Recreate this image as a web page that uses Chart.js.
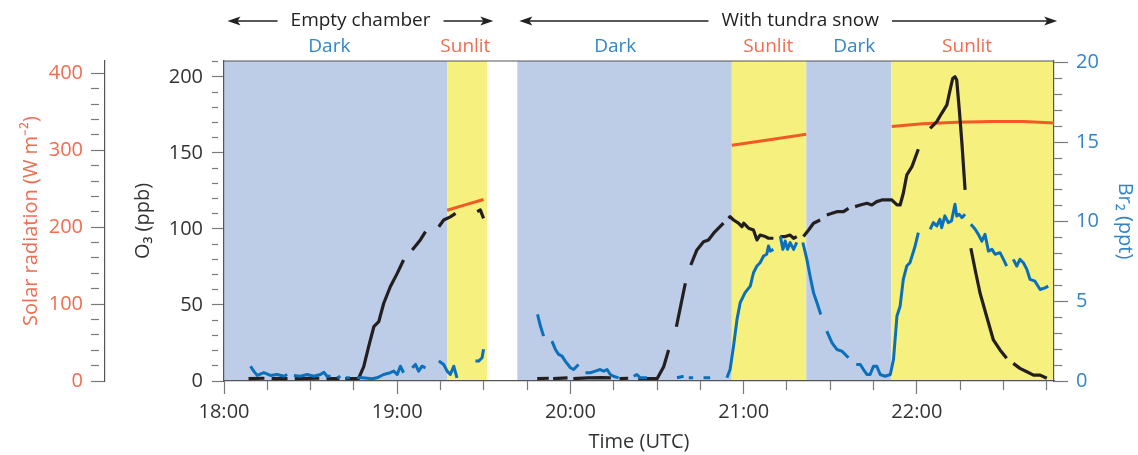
<!DOCTYPE html>
<html>
<head>
<meta charset="utf-8">
<script src="https://cdn.jsdelivr.net/npm/chart.js@4/dist/chart.umd.min.js"></script>
<style>
  html, body { margin: 0; padding: 0; background: #fff; }
</style>
</head>
<body>
<canvas id="myChart" width="1138" height="455"></canvas>
<script>
// time is in minutes after 18:00 UTC, null = gap in the record

// O3 (ppb)
const o3Time = [
  8.5, 14, 15, 16.5, 22, 23, 24.5, 33, 34, 35.5, 40, 41, 42, 46.6,
  48.4, 50.1, 51.9, 53.6, 55.3, 57.6, 60, 62.2, 63.7, 65.2, 68, 69.8, 72, 74.4, 76.1, 78.4, 80.2, 84, 87.7, 88.8, 89.9,
  95,
  108.5, 112.5, 113.2, 114, 119, 120, 121, 126, 131, 134, 135.5, 137, 140, 141.7, 143.5, 150,
  152.3, 154, 155.3, 156.7, 158.6, 159.8, 160.7, 161.7, 163.8, 166.1, 167.8, 169.6, 171.3, 173, 173.9,
  174.8, 175.3, 176.5, 178.2, 179.4, 180, 181.7, 183.4, 184.6, 185.7, 187.5, 188.6, 190.3, 191.5,
  192.7, 194.4, 196.1, 197.3, 198.4, 199.5,
  200.7, 202.5, 204.2, 206.5, 207.6, 208.8, 210.6, 212.3, 214.6, 216.3, 217.4,
  218.6, 220.4, 222.7, 224.4, 226.1, 227.9, 229.6, 231.3, 233.1, 234.2, 235.3, 236.5, 238.3, 240.5, 242.5,
  244.6, 246.9, 248.6, 250.4, 251.5, 252.4, 253.2, 253.8, 254.7, 255.6, 256.7, 257.7,
  258.7, 260.2, 261.9, 264.2, 266.5, 268.8, 271.1, 272.2, 273.4, 275.7, 278.1, 280.4, 282.7, 285
];
const o3Ppb = [
  1.5, 1.8, null, 1.6, 1.5, null, 1.6, 1.8, null, 1.5, 1.6, null, 1.5, 1.5,
  9.4, 22.6, 35.7, 39, 51, 62, 70.8, 79.6, null, 86.2, 92.8, 98.2, null, 101.5, 105.9, 108, 110.3, null, 111.4, 112.5, 107,
  null,
  1.5, 1.8, null, 1.5, 2, null, 1.6, 2, 2.2, 2, null, 1.5, 1.8, null, 1.5, 1.5,
  9.4, 20.4, null, 35.7, 53.3, 64.3, null, 76.3, 86.2, 91.6, 92.8, 97.2, 100.5, 103.8, null,
  107, 108.1, 105.9, 103.8, 101.5, 103.8, 100.5, 99.3, 92.8, 96, 95, 93.9, 93.9, null,
  95, 95, 96, 93.9, 95, null,
  95, 99.3, 103.8, 105.9, null, 109.2, 110.3, 111.4, 111.4, 113.6, null,
  114.7, 115.8, 116.9, 115.8, 118, 119.1, 119.1, 119.1, 115.8, 115.8, 123.5, 135.5, 141, 152.4, null,
  166.2, 170.6, 176.1, 181.6, 191.4, 199, 200.2, 198, 178.3, 156.4, 125.7, null,
  87.3, 73, 57.7, 42.3, 27, 20.4, 14.9, null, 11.6, 8.3, 6.1, 3.9, 3.9, 1.8
];

// Br2 (ppt)
const br2Time = [
  9.2, 10.3, 11.5, 13.8, 16.1, 18.4, 20.7, 21.9, 23, 24.2, 26.5, 28.8, 31.1, 33.4, 34.6, 35.7, 36.9, 38,
  39.2, 40.3, 41.5, 42.3, 43.6, 44.6, 46.1, 48, 51.3, 53, 55.3, 57.6, 58.8, 60, 61.1, 62.2, 63.7,
  65.2, 66.3, 67.4, 68.6, 69.8, 72, 74.4, 76.1, 77.3, 78.4, 79.6, 80.7, 84, 87.1, 88.2, 89.4, 89.9,
  95,
  108.6, 109.6, 110.7, 112.2, 113.6, 114.8, 115.9, 117.1, 118.2, 120, 121.1, 122.8, 124,
  125.2, 126.9, 128.6, 130.3, 131.5, 132.7, 133.8, 134.9, 136.7, 139, 141.9, 143, 144.2, 146.5, 150,
  156.9, 159.2, 160.3, 161, 162.5, 164, 166.1, 168.4, 171,
  174.2, 175.3, 176.5, 177.7, 178.8, 180.5, 182.3, 183.4, 184.6, 185.7, 186.9, 188, 188.6, 189.2, 190.3, 191.5,
  192.7, 193.6, 194.4, 195.2, 196.1, 197.3, 198.4, 199.5,
  200.5, 201.9, 203, 204.2, 205.4, 206.7, 207.8,
  208.8, 210.6, 212.3, 214, 215.2, 216.3, 217.6,
  219, 220.4, 221.5, 222.7, 223.8, 225, 226.1, 227.3, 229, 230.8, 231.9, 233.1, 234.2, 235.3, 236.5, 237.6, 239.4, 240.5, 242.5,
  244.6, 245.7, 246.9, 248, 248.6, 249.7, 250.9, 252, 253.2, 253.8, 254.7, 255.6, 256.7, 257.7,
  258.7, 260.2, 261.3, 262.5, 263.6, 264.8, 266, 267.1, 268.8, 270, 271.1, 272.2,
  273.4, 274.6, 275.7, 276.9, 278.1, 279.2, 280.9, 282.7, 284.4, 285.5
];
const br2Ppt = [
  0.93, 0.62, 0.35, 0.52, 0.35, 0.41, 0.3, 0.41, null, 0.35, 0.3, 0.41, 0.3, 0.41, 0.55, 0.3, 0.3, null,
  0.2, 0.3, null, 0.2, 0.2, null, 0.2, 0.2, 0.14, 0.2, 0.41, 0.52, 0.62, 0.41, 0.93, 0.52, null,
  0.83, 1.04, 0.62, 0.93, 0.83, null, 1.25, 1.04, 0.62, 0.41, 0.93, 0.2, null, 1.25, 1.25, 1.46, 2.0,
  null,
  4.18, 3.45, 2.82, null, 2.5, 1.98, 1.67, 1.56, 1.25, 0.83, 0.72, 1.04, null,
  0.52, 0.52, 0.62, 0.72, 0.62, 0.72, 0.41, 0.3, 0.2, null, 0.3, 0.41, 0.2, 0.2, null,
  0.2, 0.3, null, 0.2, 0.2, null, 0.2, 0.2, null,
  0.2, 0.72, 2.19, 3.87, 4.92, 5.55, 5.96, 6.8, 7.22, 7.43, 7.85, 7.96, 8.48, 8.16, 8.27, null,
  9.1, 8.27, 8.79, 8.27, 8.69, 8.27, 8.7, null,
  8.7, 7.64, 6.6, 5.55, 4.92, 4.18, null,
  3.13, 2.4, 1.98, 1.88, 1.67, 1.46, null,
  1.04, 1.04, 0.72, 0.41, 0.41, 0.93, 0.93, 0.41, 0.3, 0.41, 1.35, 4.08, 4.7, 6.38, 7.22, 7.43, 8.48, 9.32, null,
  9.53, 9.95, 9.74, 10.16, 9.63, 10.37, 9.95, 10.05, 11.1, 10.37, 10.47, 10.26, 10.47, null,
  9.84, 9.53, 9.21, 8.79, 9.21, 8.16, 8.27, 7.96, 8.06, 7.64, 7.22, null,
  7.64, 7.22, 7.64, 7.43, 7.01, 6.38, 6.27, 5.75, 5.85, 5.96
];

// solar radiation (W m-2), only while lamps on
const solarTime = [77.3, 83.5, 89.9, 95, 175.9, 189, 201.7, 215, 231.3, 242, 254, 266, 277, 287.5];
const solarWm2  = [222, 229, 236, null, 306.5, 313.5, 320.8, null, 331, 334.5, 336.5, 337.5, 337.5, 335.5];

// dark / sunlit periods
const bandStart = [0, 77.3, 101.6, 175.9, 201.7, 231.1];
const bandEnd   = [77.3, 91.1, 175.9, 201.7, 231.1, 287.5];
const bandKind  = ['Dark', 'Sunlit', 'Dark', 'Sunlit', 'Dark', 'Sunlit'];
const bandLabelAt = [36.5, 83.6, 135.5, 188.5, 218.3, 257.4];

// experiment phases shown with arrows
const phaseNames  = ['Empty chamber', 'With tundra snow'];
const phaseFrom   = [1.2, 102.3];
const phaseTo     = [93.3, 288.6];
const phaseTextAt = [47.3, 199.6];

const hourLabels = ['18:00', '19:00', '20:00', '21:00', '22:00'];

const FONT = "'Open Sans', sans-serif";
const AXIS = '#555';
const TICK = '#7a7a7a';
const DARK_BG = '#bdcde8';
const SUN_BG = '#f6f07e';
const O3_LINE = '#231f20';
const BR2_LINE = '#0a70bb';
const BR2_TEXT = '#3485c7';
const SOLAR_LINE = '#f15a24';
const SOLAR_TEXT = '#f26c4f';

Chart.defaults.font.family = FONT;

const toPoints = (ts, vs) => ts.map((t, i) => ({ x: t, y: vs[i] }));

function arrow(ctx, x0, x1, y) {
  const dir = Math.sign(x1 - x0);
  ctx.beginPath();
  ctx.moveTo(x0, y);
  ctx.lineTo(x1 - dir * 8, y);
  ctx.stroke();
  ctx.beginPath();
  ctx.moveTo(x1, y);
  ctx.lineTo(x1 - dir * 13, y - 4.5);
  ctx.lineTo(x1 - dir * 10, y);
  ctx.lineTo(x1 - dir * 13, y + 4.5);
  ctx.closePath();
  ctx.fill();
}

const backdrop = {
  id: 'backdrop',
  beforeDraw(chart) {
    const { ctx, chartArea: a, scales: { x } } = chart;
    ctx.save();
    bandStart.forEach((s, i) => {
      const x0 = x.getPixelForValue(s);
      const x1 = x.getPixelForValue(bandEnd[i]);
      ctx.fillStyle = bandKind[i] === 'Dark' ? DARK_BG : SUN_BG;
      ctx.fillRect(x0, a.top, x1 - x0, a.bottom - a.top);
    });
    ctx.restore();
  },
  afterDraw(chart) {
    const { ctx, chartArea: a, scales: { x } } = chart;
    ctx.save();
    // top edge of the frame
    ctx.strokeStyle = AXIS;
    ctx.lineWidth = 1.2;
    ctx.beginPath();
    ctx.moveTo(a.left, a.top);
    ctx.lineTo(a.right, a.top);
    ctx.stroke();

    ctx.font = '19px ' + FONT;
    ctx.textAlign = 'center';
    ctx.textBaseline = 'middle';
    bandLabelAt.forEach((t, i) => {
      ctx.fillStyle = bandKind[i] === 'Dark' ? BR2_TEXT : SOLAR_TEXT;
      ctx.fillText(bandKind[i], x.getPixelForValue(t), 47);
    });

    ctx.fillStyle = '#222';
    ctx.strokeStyle = '#222';
    ctx.lineWidth = 1.6;
    phaseNames.forEach((name, i) => {
      const cx = x.getPixelForValue(phaseTextAt[i]);
      const w = ctx.measureText(name).width;
      ctx.fillText(name, cx, 21);
      arrow(ctx, cx - w / 2 - 13, x.getPixelForValue(phaseFrom[i]), 21);
      arrow(ctx, cx + w / 2 + 13, x.getPixelForValue(phaseTo[i]), 21);
    });
    ctx.restore();
  }
};

const tickFont = { size: 20 };
const titleFont = { size: 20 };

new Chart(document.getElementById('myChart'), {
  type: 'line',
  data: {
    datasets: [
      {
        label: 'Br2',
        data: toPoints(br2Time, br2Ppt),
        yAxisID: 'br2',
        borderColor: BR2_LINE,
        borderWidth: 3,
        pointRadius: 0,
        borderJoinStyle: 'round'
      },
      {
        label: 'O3',
        data: toPoints(o3Time, o3Ppb),
        yAxisID: 'o3',
        borderColor: O3_LINE,
        borderWidth: 3.2,
        pointRadius: 0,
        borderJoinStyle: 'round'
      },
      {
        label: 'Solar radiation',
        data: toPoints(solarTime, solarWm2),
        yAxisID: 'solar',
        borderColor: SOLAR_LINE,
        borderWidth: 3,
        pointRadius: 0
      }
    ]
  },
  options: {
    responsive: false,
    animation: false,
    spanGaps: false,
    layout: { padding: { top: 61, right: 0, bottom: 0, left: 0 } },
    plugins: {
      legend: { display: false },
      tooltip: { enabled: false }
    },
    scales: {
      x: {
        type: 'linear',
        min: 0,
        max: 287.5,
        ticks: {
          stepSize: 15,
          includeBounds: false,
          autoSkip: false,
          maxRotation: 0,
          padding: 6,
          color: '#333',
          font: tickFont,
          callback: v => (v % 60 === 0 ? hourLabels[v / 60] : '')
        },
        grid: {
          drawOnChartArea: false,
          tickLength: 13,
          tickColor: TICK,
          tickWidth: 1.2,
          tickBorderDash: c => (c.tick.value % 60 === 0 ? [] : [9, 40])
        },
        border: { color: AXIS, width: 1.2 },
        title: { display: true, text: 'Time (UTC)', color: '#333', font: titleFont, padding: { top: 0, bottom: 1 } },
        afterFit: s => { s.height = 74; }
      },
      solar: {
        position: 'left',
        weight: 1,
        min: 0,
        max: 416,
        ticks: {
          stepSize: 20,
          includeBounds: false,
          autoSkip: false,
          padding: 8,
          color: SOLAR_TEXT,
          font: tickFont,
          callback: v => (v % 100 === 0 ? v : '')
        },
        grid: {
          drawOnChartArea: false,
          tickLength: 14,
          tickColor: TICK,
          tickWidth: 1.2,
          tickBorderDash: c => (c.tick.value % 100 === 0 ? [] : [8, 40])
        },
        border: { color: AXIS, width: 1.2 },
        title: { display: true, text: 'Solar radiation (W m⁻²)', color: SOLAR_TEXT, font: titleFont, padding: { top: 19, bottom: 0 } },
        afterFit: s => { s.width = 105; }
      },
      o3: {
        position: 'left',
        weight: 0,
        min: 0,
        max: 210.5,
        ticks: {
          stepSize: 10,
          includeBounds: false,
          autoSkip: false,
          padding: 9,
          color: '#333',
          font: tickFont,
          callback: v => (v % 50 === 0 ? v : '')
        },
        grid: {
          drawOnChartArea: false,
          tickLength: 12,
          tickColor: TICK,
          tickWidth: 1.2,
          tickBorderDash: c => (c.tick.value % 50 === 0 ? [] : [6, 40])
        },
        border: { color: AXIS, width: 1.2 },
        title: { display: true, text: 'O₃ (ppb)', color: '#333', font: titleFont, padding: { top: 26, bottom: 0 } },
        afterFit: s => { s.width = 119; }
      },
      br2: {
        position: 'right',
        min: 0,
        max: 20.1,
        ticks: {
          stepSize: 1,
          includeBounds: false,
          autoSkip: false,
          padding: 8,
          color: BR2_TEXT,
          font: tickFont,
          callback: v => (v % 5 === 0 ? v : '')
        },
        grid: {
          drawOnChartArea: false,
          tickLength: 14,
          tickColor: TICK,
          tickWidth: 1.2,
          tickBorderDash: c => (c.tick.value % 5 === 0 ? [] : [8, 40])
        },
        border: { color: AXIS, width: 1.2 },
        title: { display: true, text: 'Br₂ (ppt)', color: BR2_TEXT, font: titleFont, padding: { top: 1, bottom: 0 } },
        afterFit: s => { s.width = 84; }
      }
    }
  },
  plugins: [backdrop]
});
</script>
</body>
</html>
